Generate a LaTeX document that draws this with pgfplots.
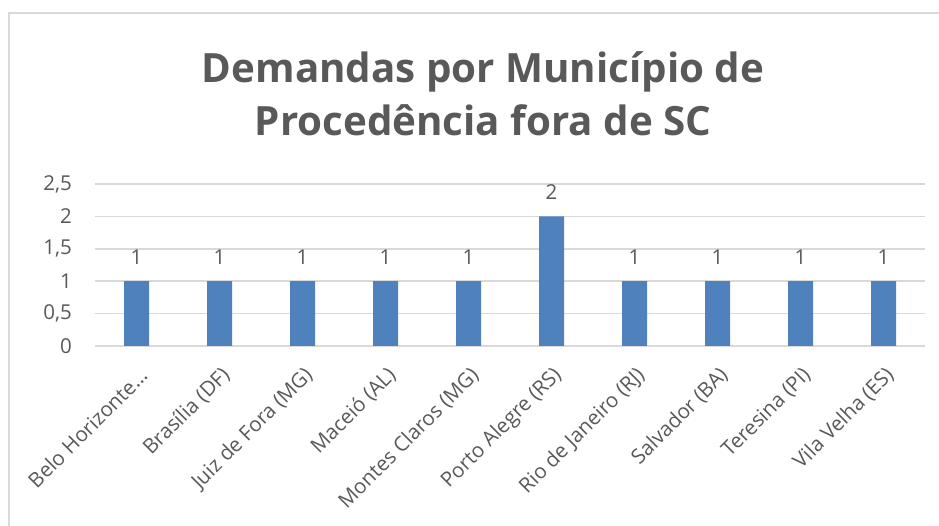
\documentclass[border=0pt]{standalone}
\usepackage{fontspec}
\setmainfont{Open Sans}
\usepackage{pgfplots}
\pgfplotsset{compat=1.18}
\definecolor{barblue}{HTML}{4F81BD}
\definecolor{txtgray}{HTML}{595959}
\definecolor{gridgray}{HTML}{D9D9D9}
\begin{document}
\begin{tikzpicture}
\path[use as bounding box] (0,0) rectangle (939bp,526bp);
\fill[white] (0,0) rectangle (939bp,526bp);
\draw[gridgray, line width=1.5bp] (9bp,-5bp) -- (9bp,513bp) -- (950bp,513bp);
\node[anchor=base, text=txtgray, font=\fontsize{40.3bp}{44bp}\selectfont\bfseries] at (483bp,443bp) {Demandas por Município de};
\node[anchor=base, text=txtgray, font=\fontsize{40.3bp}{44bp}\selectfont\bfseries] at (483bp,390bp) {Procedência fora de SC};
\begin{axis}[
  at={(95bp,180bp)}, anchor=south west,
  scale only axis, width=830bp, height=162bp,
  xmin=-0.5, xmax=9.5, ymin=0, ymax=2.5,
  ytick={0,0.5,1,1.5,2,2.5},
  xtick={0,...,9},
  xticklabels={Belo Horizonte…,Brasília (DF),Juiz de Fora (MG),Maceió (AL),Montes Claros (MG),Porto Alegre (RS),Rio de Janeiro (RJ),Salvador (BA),Teresina (PI),Vila Velha (ES)},
  axis line style={draw=none},
  axis x line*=bottom,
  x axis line style={draw=gridgray, line width=1.5bp},
  ymajorgrids, grid style={gridgray, line width=1.5bp},
  major tick length=0pt,
  /pgf/number format/.cd, use comma, assume math mode=true,
  /pgfplots/.cd,
  yticklabel style={font=\fontsize{20.5bp}{22bp}\selectfont, text=txtgray, anchor=east, inner sep=0pt, xshift=-23bp},
  xticklabel style={font=\fontsize{20.5bp}{22bp}\selectfont, text=txtgray, xshift=7bp, yshift=-26bp, rotate=45, anchor=east, inner sep=0pt},
  ybar, bar width=25bp,
  nodes near coords,
  every node near coord/.append style={font=\fontsize{20.5bp}{22bp}\selectfont, text=txtgray, anchor=south, inner sep=0pt, yshift=17bp},
  clip=false,
]
\addplot[fill=barblue, draw=none] coordinates {(0,1) (1,1) (2,1) (3,1) (4,1) (5,2) (6,1) (7,1) (8,1) (9,1)};
\end{axis}
\end{tikzpicture}
\end{document}
